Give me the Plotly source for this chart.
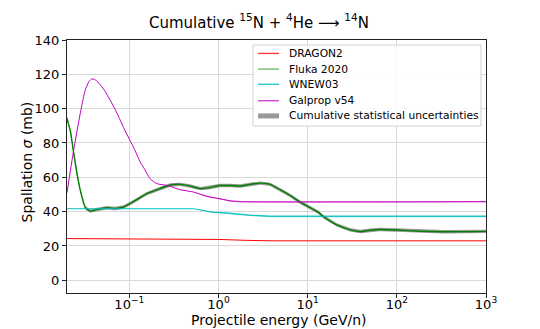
import plotly.graph_objects as go

# ─────────────────────────────────────────────
# DATA (energies in GeV/n, cross sections in mb)
# ─────────────────────────────────────────────
dragon_e = [0.02, 0.5, 1.0, 2.0, 4.0, 1000]
dragon_xs = [24.3, 24.2, 23.8, 23.3, 23.0, 23.0]

fluka_e = [0.02, 0.0203, 0.0218, 0.0237, 0.0259, 0.0282, 0.0321, 0.0365, 0.0434,
           0.0561, 0.0695, 0.0861, 0.111, 0.157, 0.222, 0.288, 0.372, 0.482,
           0.624, 0.807, 1.04, 1.35, 1.75, 2.26, 2.94, 3.80, 4.92, 6.37, 8.24,
           10.7, 13.2, 15.0, 21.2, 29.9, 38.7, 50.1, 64.9, 100, 182, 333, 1000]
fluka_xs = [94.5, 93.0, 87.0, 74.6, 62.0, 52.4, 42.3, 40.3, 41.3,
            42.3, 41.8, 42.7, 45.8, 50.5, 53.5, 55.5, 55.9, 54.9,
            53.4, 54.1, 55.2, 55.2, 54.9, 55.9, 56.6, 55.9, 52.8, 49.4, 45.5,
            42.3, 39.6, 37.1, 32.3, 29.4, 28.4, 29.2, 29.6, 29.3, 28.6, 28.3, 28.5]
FLUKA_ERR = 1.0

wnew_e = [0.02, 0.525, 0.68, 0.807, 1.35, 2.26, 3.80, 1000]
wnew_xs = [41.7, 41.7, 40.7, 39.8, 39.0, 37.9, 37.3, 37.3]
wnew_err = [0.0, 0.0, 0.2, 0.35, 0.45, 0.5, 0.5, 0.5]

galprop_e = [0.02, 0.0237, 0.0286, 0.0321, 0.0355, 0.0381, 0.0427, 0.0514, 0.0695,
             0.0861, 0.102, 0.116, 0.132, 0.144, 0.171, 0.204, 0.264, 0.372, 0.525,
             0.741, 1.04, 1.35, 1.75, 1000]
galprop_xs = [51.0, 75.6, 99.0, 111.0, 116.0, 117.4, 116.3, 111.5, 99.5,
              89.0, 81.4, 75.6, 69.0, 65.9, 59.2, 56.3, 55.3, 52.8, 51.4,
              48.9, 47.5, 46.3, 45.8, 45.8]
galprop_err = [0.0, 0.0, 0.0, 0.0, 0.0, 0.0, 0.0, 0.0, 0.0,
               0.0, 0.0, 0.0, 0.0, 0.0, 0.0, 0.0, 0.0, 0.0, 0.15,
               0.3, 0.35, 0.35, 0.35, 0.35]

x_tickvals = [0.1, 1, 10, 100, 1000]
x_ticktext = ["10<sup>\u22121</sup>", "10<sup>0</sup>", "10<sup>1</sup>",
              "10<sup>2</sup>", "10<sup>3</sup>"]
y_tickvals = [0, 20, 40, 60, 80, 100, 120, 140]

legend_names = ["DRAGON2", "Fluka 2020", "WNEW03", "Galprop v54",
                "Cumulative statistical uncertainties"]

FONT = "DejaVu Sans"
COLORS = {
    "red": "#ff0000",
    "green": "#008000",
    "cyan": "#00bfbf",
    "magenta": "#bf00bf",
    "band": "rgba(128,128,128,0.8)",
}


def band(xs, ys, errs, color):
    upper = [y + e for y, e in zip(ys, errs)]
    lower = [y - e for y, e in zip(ys, errs)]
    return go.Scatter(
        x=list(xs) + list(xs)[::-1],
        y=upper + lower[::-1],
        fill="toself", fillcolor=color,
        line=dict(width=0, color=color),
        mode="lines", showlegend=False, hoverinfo="skip",
    )


fig = go.Figure()

# uncertainty bands
fig.add_trace(band(wnew_e, wnew_xs, wnew_err, "rgba(0,191,191,0.5)"))
fig.add_trace(band(galprop_e, galprop_xs, galprop_err, "rgba(191,0,191,0.4)"))
fig.add_trace(band(fluka_e, fluka_xs, [FLUKA_ERR] * len(fluka_e), COLORS["band"]))

fig.add_trace(go.Scatter(x=dragon_e, y=dragon_xs, mode="lines", name=legend_names[0],
                         line=dict(color=COLORS["red"], width=1)))
fig.add_trace(go.Scatter(x=fluka_e, y=fluka_xs, mode="lines", name=legend_names[1],
                         line=dict(color=COLORS["green"], width=1.4, shape="spline", smoothing=0.6)))
fig.add_trace(go.Scatter(x=wnew_e, y=wnew_xs, mode="lines", name=legend_names[2],
                         line=dict(color=COLORS["cyan"], width=1)))
fig.add_trace(go.Scatter(x=galprop_e, y=galprop_xs, mode="lines", name=legend_names[3],
                         line=dict(color=COLORS["magenta"], width=1, shape="spline", smoothing=0.6)))

# ─────────────────────────────────────────────
# LEGEND (drawn by hand to get matplotlib-like spacing)
# ─────────────────────────────────────────────
shapes = [dict(type="rect", xref="paper", yref="paper", x0=0.444, x1=0.988, y0=0.660, y1=0.980,
               line=dict(color="#d0d0d0", width=1), fillcolor="rgba(255,255,255,0.85)", layer="above")]
annotations = []
legend_y = [0.947, 0.885, 0.825, 0.760, 0.700]
legend_cols = ["rgba(255,0,0,0.8)", "rgba(0,128,0,0.6)", "rgba(0,191,191,0.9)",
               "rgba(191,0,191,0.8)"]
for name, yy, col in zip(legend_names[:4], legend_y[:4], legend_cols):
    shapes.append(dict(type="line", xref="paper", yref="paper", x0=0.456, x1=0.506, y0=yy, y1=yy,
                       line=dict(color=col, width=1.3), layer="above"))
for name, yy in zip(legend_names, legend_y):
    annotations.append(dict(text=name, xref="paper", yref="paper", x=0.525, y=yy,
                            xanchor="left", yanchor="middle", showarrow=False,
                            font=dict(family=FONT, size=10.7, color="black")))
shapes.append(dict(type="rect", xref="paper", yref="paper", x0=0.456, x1=0.506,
                   y0=legend_y[4] - 0.010, y1=legend_y[4] + 0.010,
                   line=dict(width=0), fillcolor="#999999", layer="above"))

# axis titles
annotations.append(dict(text="Projectile energy (GeV/n)", xref="paper", yref="paper",
                        x=0.507, y=-0.107, xanchor="center", yanchor="middle", showarrow=False,
                        font=dict(family=FONT, size=14, color="black")))
annotations.append(dict(text="Spallation <i>\u03c3</i> (mb)", xref="paper", yref="paper",
                        x=-0.0955, y=0.52, xanchor="center", yanchor="middle", showarrow=False,
                        textangle=-90, font=dict(family=FONT, size=14, color="black")))

axis_common = dict(
    showline=True, linecolor="#222", linewidth=1, mirror=True,
    showgrid=True, gridcolor="#d9d9d9", gridwidth=1,
    ticks="outside", ticklen=4, tickcolor="#222",
    tickfont=dict(family=FONT, size=13, color="black"),
    zeroline=False, automargin=False,
)

# the page keeps an 8px body margin, so margins are shifted to match
fig.update_layout(
    width=532, height=321,
    margin=dict(l=59, r=54, t=32, b=36),
    paper_bgcolor="white", plot_bgcolor="white",
    font=dict(family=FONT, color="black"),
    title=dict(
        text="Cumulative <sup>15</sup>N + <sup>4</sup>He \u27f6 <sup>14</sup>N",
        x=0.458, xref="paper", xanchor="center",
        y=0.955, yanchor="middle",
        font=dict(family=FONT, size=15, color="black"),
    ),
    xaxis=dict(type="log", range=[-1.699, 3], tickvals=x_tickvals, ticktext=x_ticktext,
               ticklabelstandoff=-5, **axis_common),
    yaxis=dict(range=[-7.4, 140], tickvals=y_tickvals, **axis_common),
    shapes=shapes,
    annotations=annotations,
    showlegend=False,
)

fig.write_html("out.html")
